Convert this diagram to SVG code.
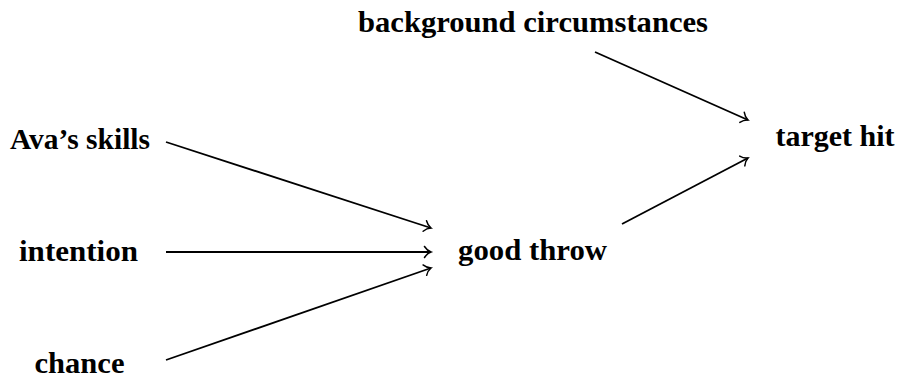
<svg xmlns="http://www.w3.org/2000/svg" width="898" height="382" viewBox="0 0 898 382">
<style>
text{font-family:"Liberation Serif","DejaVu Serif",serif;font-weight:bold;font-size:30px;fill:#000;text-anchor:middle}
.c{stroke:#000;stroke-width:1.8;fill:none}
</style>
<defs>
<marker id="a" markerWidth="14" markerHeight="14" refX="9" refY="7" orient="auto" markerUnits="userSpaceOnUse">
<path d="M2.5,1.5 Q5,5.5 9,7 Q5,8.5 2.5,12.5" fill="none" stroke="#000" stroke-width="1.5" stroke-linecap="round"/>
</marker>
</defs>
<g id="connectors">
<line class="c" x1="595" y1="52" x2="748" y2="120" marker-end="url(#a)"/>
<line class="c" x1="166" y1="142" x2="431" y2="228" marker-end="url(#a)"/>
<line class="c" x1="166" y1="252" x2="431" y2="252" marker-end="url(#a)"/>
<line class="c" x1="166" y1="360" x2="431" y2="268" marker-end="url(#a)"/>
<line class="c" x1="622" y1="224" x2="748" y2="158" marker-end="url(#a)"/>
</g>
<g id="background"><text x="533" y="32" textLength="350" lengthAdjust="spacingAndGlyphs">background circumstances</text></g>
<g id="skills"><text x="80" y="149" textLength="140" lengthAdjust="spacingAndGlyphs">Ava’s skills</text></g>
<g id="intention"><text x="78.5" y="261" textLength="119" lengthAdjust="spacingAndGlyphs">intention</text></g>
<g id="chance"><text x="79.5" y="373" textLength="90" lengthAdjust="spacingAndGlyphs">chance</text></g>
<g id="goodthrow"><text x="532.5" y="260" textLength="149" lengthAdjust="spacingAndGlyphs">good throw</text></g>
<g id="targethit"><text x="835" y="146" textLength="119" lengthAdjust="spacingAndGlyphs">target hit</text></g>
</svg>
